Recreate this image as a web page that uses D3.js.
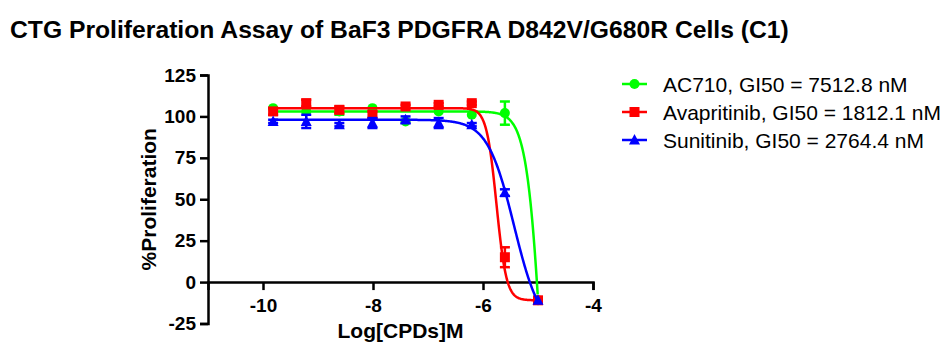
<!DOCTYPE html>
<html lang="en">
<head>
<meta charset="UTF-8">
<title>CTG Proliferation Assay</title>
<script src="https://d3js.org/d3.v7.min.js"></script>
<style>
    body { margin: 0; background: #fff; }
    svg text { font-family: 'Liberation Sans', Arial, sans-serif; fill: #000; }
</style>
</head>
<body>
<div id="chart"></div>
<script>
// data
const logConc = [-9.816, -9.214, -8.612, -8.010, -7.408, -6.806, -6.204, -5.602, -5.0];
const seriesNames = ['AC710, GI50 = 7512.8 nM', 'Avapritinib, GI50 = 1812.1 nM', 'Sunitinib, GI50 = 2764.4 nM'];
const ac710 = [105, 103, 103, 105, 97, 103, 101, 102, -11];
const ac710Err = [0, 0, 2, 0, 0, 0, 0, 7, 0];
const avapritinib = [103, 108, 104, 101, 106, 107, 108, 15, -11];
const avapritinibErr = [2, 2, 2, 2, 1, 1, 1, 6, 1];
const sunitinib = [97, 97, 95, 96, 98, 96, 95, 54, -11];
const sunitinibErr = [1, 4, 1, 3, 2, 3, 1, 2, 0];
// 4PL fit parameters per series
const fitTop = [103, 105, 98];
const fitBottom = [-300, -11, -30];
const fitLogIC50 = [-4.86, -5.755, -5.435];
const fitHill = [2.9, 4.8, 1.8];
const xTicks = [-10, -8, -6, -4];
const yTicks = [-25, 0, 25, 50, 75, 100, 125];
const colors = ['#00ff00', '#ff0000', '#0000ff'];
const shapes = ['circle', 'square', 'triangle'];

const values = [ac710, avapritinib, sunitinib];
const errors = [ac710Err, avapritinibErr, sunitinibErr];

const width = 949, height = 351;
const svg = d3.select('#chart').append('svg')
    .attr('width', width).attr('height', height);

svg.append('text')
    .attr('x', 10).attr('y', 38)
    .attr('font-size', 24.7).attr('font-weight', 'bold')
    .text('CTG Proliferation Assay of BaF3 PDGFRA D842V/G680R Cells (C1)');

const x = d3.scaleLinear().domain([-11, -4]).range([208, 593]);
const y = d3.scaleLinear().domain([-25, 125]).range([323.5, 75]);

// axes
const yAxis = svg.append('g')
    .attr('transform', `translate(${x(-11)},0)`)
    .call(d3.axisLeft(y).tickValues(yTicks).tickSize(8).tickPadding(4));
const xAxis = svg.append('g')
    .attr('transform', `translate(0,${y(0)})`)
    .call(d3.axisBottom(x).tickValues(xTicks).tickSize(8).tickPadding(8)
        .tickFormat(d => d3.format('d')(d).replace('\u2212', '-')));
[xAxis, yAxis].forEach(g => {
    g.select('.domain').attr('stroke', '#000').attr('stroke-width', 2.5);
    g.selectAll('.tick line').attr('stroke', '#000').attr('stroke-width', 2.5);
    g.selectAll('.tick text')
        .attr('font-size', 19).attr('font-weight', 'bold')
        .attr('font-family', "'Liberation Sans', Arial, sans-serif");
});
yAxis.selectAll('.tick text').text(d => String(d));

svg.append('text')
    .attr('x', (x(-11) + x(-4)) / 2).attr('y', 338)
    .attr('text-anchor', 'middle')
    .attr('font-size', 21).attr('font-weight', 'bold')
    .text('Log[CPDs]M');
svg.append('text')
    .attr('transform', `translate(156,${(y(-25) + y(125)) / 2}) rotate(-90)`)
    .attr('text-anchor', 'middle')
    .attr('font-size', 21).attr('font-weight', 'bold')
    .text('%Proliferation');

function marker(g, shape, color, cx, cy) {
    if (shape === 'circle') {
        g.append('circle').attr('cx', cx).attr('cy', cy).attr('r', 5).attr('fill', color);
    } else if (shape === 'square') {
        g.append('rect').attr('x', cx - 5).attr('y', cy - 5)
            .attr('width', 10).attr('height', 10).attr('fill', color);
    } else {
        g.append('path')
            .attr('d', `M${cx},${cy - 6}L${cx + 5.5},${cy + 4.5}L${cx - 5.5},${cy + 4.5}Z`)
            .attr('fill', color);
    }
}

const line = d3.line().x(d => x(d[0])).y(d => y(d[1]));
const samples = d3.range(logConc[0], logConc[logConc.length - 1] + 0.0001, 0.01);

values.forEach((vals, s) => {
    const g = svg.append('g');
    const fit = samples.map(lx => [lx,
        fitBottom[s] + (fitTop[s] - fitBottom[s]) / (1 + Math.pow(10, (lx - fitLogIC50[s]) * fitHill[s]))]);
    g.append('path').datum(fit)
        .attr('d', line).attr('fill', 'none')
        .attr('stroke', colors[s]).attr('stroke-width', 2.5);
    vals.forEach((v, i) => {
        const e = errors[s][i];
        const cx = x(logConc[i]);
        if (e > 0) {
            g.append('line').attr('x1', cx).attr('x2', cx)
                .attr('y1', y(v - e)).attr('y2', y(v + e))
                .attr('stroke', colors[s]).attr('stroke-width', 2.5);
            [v - e, v + e].forEach(ev => g.append('line')
                .attr('x1', cx - 5).attr('x2', cx + 5)
                .attr('y1', y(ev)).attr('y2', y(ev))
                .attr('stroke', colors[s]).attr('stroke-width', 2.5));
        }
        marker(g, shapes[s], colors[s], cx, y(v));
    });
});

// legend
const legend = svg.append('g');
seriesNames.forEach((name, s) => {
    const cy = 84 + s * 28;
    legend.append('line').attr('x1', 622).attr('x2', 647)
        .attr('y1', cy).attr('y2', cy)
        .attr('stroke', colors[s]).attr('stroke-width', 2.5);
    marker(legend, shapes[s], colors[s], 634.5, cy);
    legend.append('text').attr('x', 663).attr('y', cy + 7.5)
        .attr('font-size', 21).text(name);
});
</script>
</body>
</html>
